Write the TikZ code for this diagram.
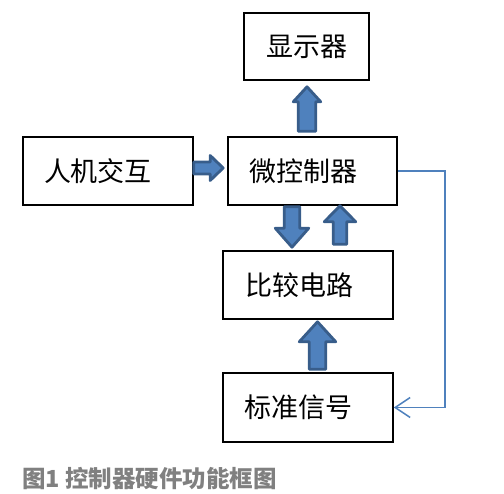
\documentclass[tikz,border=0pt]{standalone}
\usepackage{fontspec}
\setmainfont{Noto Sans CJK SC}
\usetikzlibrary{calc,arrows.meta}
\definecolor{afill}{RGB}{79,129,189}
\definecolor{adraw}{RGB}{56,93,138}
\definecolor{fbline}{RGB}{79,129,189}
\definecolor{capgray}{RGB}{128,128,128}
\tikzset{
  box/.style={draw=black, line width=1.6pt, inner sep=0pt, font=\fontsize{27}{30}\selectfont},
  barrow/.style={fill=afill, draw=adraw, line width=2.8pt, line join=round},
  fb/.style={draw=fbline, line width=1.5pt, -{Straight Barb[length=15pt,width=20pt,line width=1.5pt]}},
  caption/.style={anchor=west, inner sep=0pt, text=capgray, font=\fontsize{23.5}{26}\selectfont\bfseries}
}
\newcommand\blockarrow[5]{%
  \coordinate (hb) at ($(#2)!#5!(#1)$);
  \filldraw[barrow] ($(#1)!#3!90:(#2)$) -- ($(hb)!#3!-90:(#1)$) -- ($(hb)!#4!-90:(#1)$) -- (#2) -- ($(hb)!#4!90:(#1)$) -- ($(hb)!#3!90:(#1)$) -- ($(#1)!#3!-90:(#2)$) -- cycle;
}
\begin{document}
\begin{tikzpicture}[x=1pt,y=-1pt]
\useasboundingbox (0,0) rectangle (504,494);
\node[box, minimum width=125pt, minimum height=67pt] (disp) at (306.5,46.5) {显示器};
\node[box, minimum width=170pt, minimum height=68pt] (hmi) at (108,171) {人机交互\hspace*{20pt}};
\node[box, minimum width=169pt, minimum height=68pt] (mcu) at (312.5,171) {微控制器\hspace*{19pt}};
\node[box, minimum width=170pt, minimum height=68pt] (cmp) at (308,285) {比较电路\hspace*{18pt}};
\node[box, minimum width=170pt, minimum height=69pt] (ref) at (308,407.5) {标准信号\hspace*{19pt}};
% block arrows
\coordinate (a1s) at ($(mcu.north)+(-5.5,-5)$);
\coordinate (a1e) at ($(disp.south)+(0.5,6)$);
\blockarrow{a1s}{a1e}{8.75pt}{13.75pt}{15pt}
\coordinate (a2s) at ($(hmi.east)+(0,-3)$);
\coordinate (a2e) at ($(mcu.west)+(-4,-3)$);
\blockarrow{a2s}{a2e}{6pt}{12.5pt}{13pt}
\coordinate (a3s) at ($(mcu.south)+(-20.5,1)$);
\coordinate (a3e) at ($(cmp.north)+(-16,-3)$);
\blockarrow{a3s}{a3e}{7.75pt}{16.75pt}{19pt}
\coordinate (a4s) at ($(cmp.north)+(32,-6)$);
\coordinate (a4e) at ($(mcu.south)+(27.5,0)$);
\blockarrow{a4s}{a4e}{6.75pt}{15.75pt}{16pt}
\coordinate (a5s) at ($(ref.north)+(9.5,-3)$);
\coordinate (a5e) at ($(cmp.south)+(9.5,2)$);
\blockarrow{a5s}{a5e}{8.25pt}{18.25pt}{20pt}
% feedback
\draw[fb] (mcu.east) -- ++(47,0) |- (ref.east);
\node[caption] (cap) at (22,479) {图1 控制器硬件功能框图};
\end{tikzpicture}
\end{document}
